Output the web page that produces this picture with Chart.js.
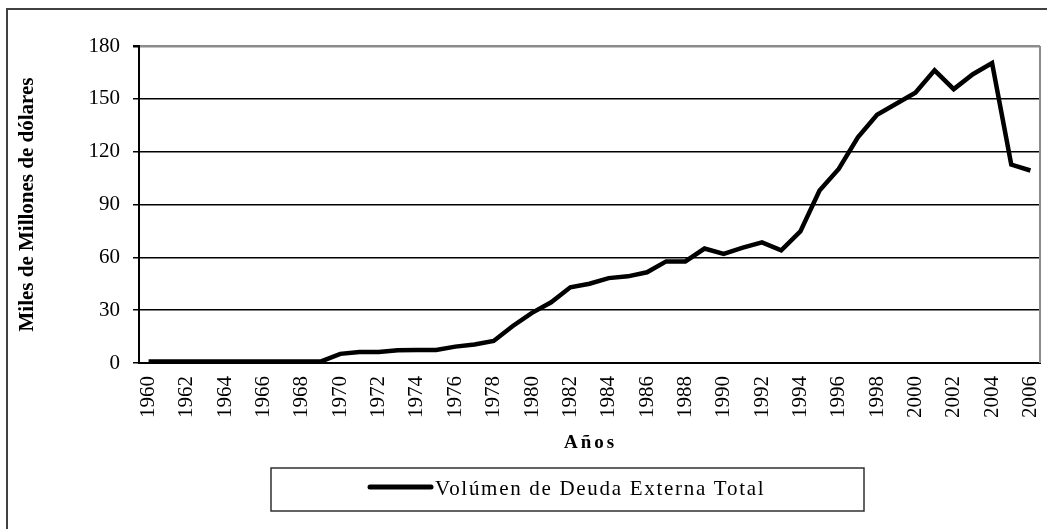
<!DOCTYPE html>
<html>
<head>
<meta charset="utf-8">
<script src="https://cdn.jsdelivr.net/npm/chart.js@4/dist/chart.umd.min.js"></script>
<style>
  html, body { margin: 0; padding: 0; background: #fff; }
  #wrap { width: 1047px; height: 529px; position: relative; }
</style>
</head>
<body>
<div id="wrap"><canvas id="chart" width="1047" height="529"></canvas></div>
<script>
// years on the category axis
const years = [
  1960, 1961, 1962, 1963, 1964, 1965, 1966, 1967, 1968, 1969,
  1970, 1971, 1972, 1973, 1974, 1975, 1976, 1977, 1978, 1979,
  1980, 1981, 1982, 1983, 1984, 1985, 1986, 1987, 1988, 1989,
  1990, 1991, 1992, 1993, 1994, 1995, 1996, 1997, 1998, 1999,
  2000, 2001, 2002, 2003, 2004, 2005, 2006
];

// miles de millones de dólares
const deudaTotal = [
  0.8, 0.8, 0.8, 0.8, 0.8, 0.8, 0.8, 0.8, 0.8, 0.9,
  5.2, 6.2, 6.2, 7.3, 7.4, 7.4, 9.3, 10.5, 12.5, 21.0,
  28.5, 34.5, 43.0, 45.0, 48.2, 49.2, 51.5, 57.7, 57.7, 65.0,
  62.0, 65.5, 68.5, 64.0, 74.7, 97.9, 110.2, 128.2, 141.0, 147.2,
  153.5, 166.2, 155.5, 164.0, 170.3, 112.7, 109.3
];

const yTicks = [0, 30, 60, 90, 120, 150, 180];

const serif = "'Liberation Serif', 'Times New Roman', serif";

// outer frame, right plot border, x title and the boxed legend
const decor = {
  id: 'decor',
  afterDraw(chart) {
    const c = chart.ctx;
    const a = chart.chartArea;
    c.save();
    c.strokeStyle = '#404040';
    c.lineWidth = 2;
    c.strokeRect(7, 9, 1100, 600);

    c.strokeStyle = '#8c8c8c';
    c.lineWidth = 2;
    c.beginPath();
    c.moveTo(a.right, a.top);
    c.lineTo(a.right, a.bottom);
    c.stroke();

    // x axis title, spaced out like the original
    c.fillStyle = '#000';
    c.textBaseline = 'middle';
    c.textAlign = 'center';
    c.font = 'bold 19px ' + serif;
    c.letterSpacing = '3px';
    c.fillText('Años', (a.left + a.right) / 2 + 1, 443);

    // legend
    const ds = chart.data.datasets[0];
    c.strokeStyle = '#303030';
    c.lineWidth = 1.5;
    c.strokeRect(271, 468, 593, 43);
    c.strokeStyle = ds.borderColor;
    c.lineWidth = 5;
    c.lineCap = 'round';
    c.beginPath();
    c.moveTo(370, 487);
    c.lineTo(431, 487);
    c.stroke();
    c.font = '21px ' + serif;
    c.letterSpacing = '1.7px';
    c.textAlign = 'left';
    c.fillText(ds.label, 435, 489);
    c.restore();
  }
};

const ctx = document.getElementById('chart').getContext('2d');
new Chart(ctx, {
  type: 'line',
  data: {
    labels: years.map(String),
    datasets: [{
      label: 'Volúmen de Deuda Externa Total',
      data: deudaTotal,
      borderColor: '#000',
      borderWidth: 4.5,
      pointRadius: 0,
      tension: 0,
      fill: false,
      borderJoinStyle: 'miter'
    }]
  },
  options: {
    responsive: false,
    animation: false,
    layout: { padding: { left: 10, right: 7, top: 46, bottom: 60 } },
    plugins: {
      legend: { display: false },
      tooltip: { enabled: false }
    },
    scales: {
      x: {
        offset: true,
        grid: { display: false, drawTicks: false, offset: true },
        border: { color: '#000', width: 2 },
        ticks: {
          autoSkip: false,
          minRotation: 90,
          maxRotation: 90,
          padding: 13,
          color: '#000',
          font: { family: serif, size: 21 },
          callback: (v, i) => (i % 2 === 0 ? years[i] : '')
        },
        afterFit: s => { s.height = 106; s.paddingLeft = 0; s.paddingRight = 0; }
      },
      y: {
        min: 0,
        max: 180,
        afterBuildTicks: s => { s.ticks = yTicks.map(v => ({ value: v })); },
        grid: {
          color: c => (c.tick && c.tick.value === 180 ? '#8c8c8c' : '#000'),
          lineWidth: c => (c.tick && c.tick.value === 180 ? 2.5 : 1.5),
          tickLength: 6,
          tickColor: '#000'
        },
        border: { color: '#000', width: 2 },
        ticks: {
          padding: 13,
          color: '#000',
          font: { family: serif, size: 21 }
        },
        title: {
          display: true,
          text: 'Miles de Millones de dólares',
          color: '#000',
          padding: { top: 5, bottom: 0 },
          font: { family: serif, size: 21, weight: 'bold' }
        },
        afterFit: s => { s.width = 129; }
      }
    }
  },
  plugins: [decor]
});
</script>
</body>
</html>
